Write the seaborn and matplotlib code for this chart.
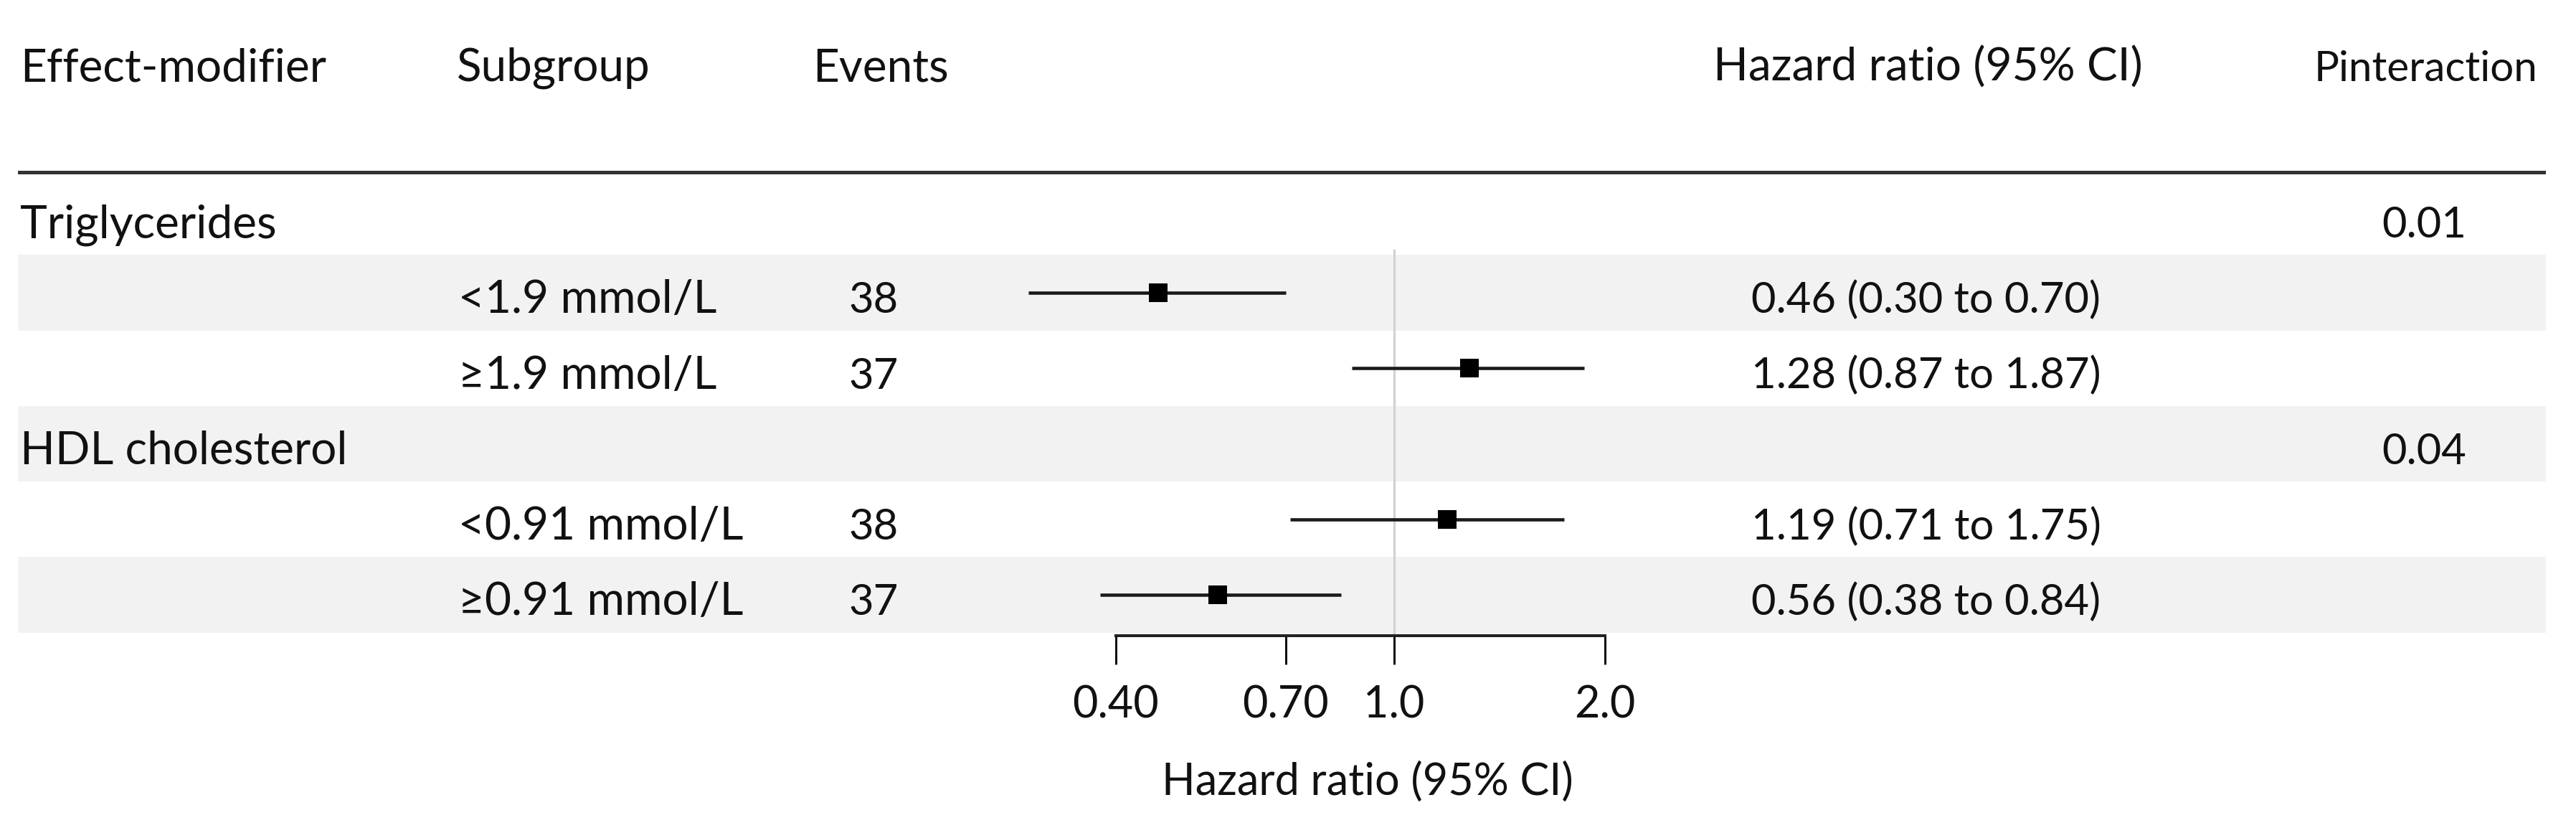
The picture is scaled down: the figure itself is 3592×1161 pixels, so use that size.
import numpy as np
import pandas as pd
import matplotlib
matplotlib.use("Agg")
import matplotlib.pyplot as plt
import matplotlib.transforms as mtransforms
from matplotlib.ticker import NullLocator
import seaborn as sns

# ---------------- data ----------------
modifiers = ["Triglycerides", "HDL cholesterol"]
p_interaction = ["0.01", "0.04"]
subgroups = ["<1.9 mmol/L", "≥1.9 mmol/L", "<0.91 mmol/L", "≥0.91 mmol/L"]
subgroup_modifier = [0, 0, 1, 1]
events = [38, 37, 38, 37]
hr = [0.46, 1.28, 1.19, 0.56]
ci_low = [0.30, 0.87, 0.71, 0.38]
ci_high = [0.70, 1.87, 1.75, 0.84]
x_ticks = [0.40, 0.70, 1.0, 2.0]
x_tick_labels = ["0.40", "0.70", "1.0", "2.0"]
headers = ["Effect-modifier", "Subgroup", "Events", "Hazard ratio (95% CI)", "Pinteraction"]
x_label = "Hazard ratio (95% CI)"

# ---------------- layout (pixels of a 3592x1161 canvas) ----------------
W_PX, H_PX, DPI = 3592, 1161, 200
AX_L_PX, AX_R_PX = 25, 3550
AX_BOTTOM_PX = 885.5
ROW0_PX, ROW_PX = 302.75, 105.25
X1_PX, PX_PER_LN = 1944, 423.5

sns.set_theme(style="white")
plt.rcParams["font.family"] = ["Lato", "DejaVu Sans"]
FS = 23.0
FS_NUM = 21.5
FS_P = 21.0

fig = plt.figure(figsize=(W_PX / DPI, H_PX / DPI), dpi=DPI)
ax = fig.add_axes([AX_L_PX / W_PX, 1 - AX_BOTTOM_PX / H_PX,
                   (AX_R_PX - AX_L_PX) / W_PX, AX_BOTTOM_PX / H_PX])
ax.set_facecolor("none")
ax.set_xscale("log")
xmin = np.exp((AX_L_PX - X1_PX) / PX_PER_LN)
xmax = np.exp((AX_R_PX - X1_PX) / PX_PER_LN)
ax.set_xlim(xmin, xmax)
y_top = -ROW0_PX / ROW_PX
y_bot = (AX_BOTTOM_PX - ROW0_PX) / ROW_PX
ax.set_ylim(y_bot, y_top)

# rows: modifier header rows and subgroup rows
row_of_modifier = []
row_of_subgroup = []
r = 0
for m in range(len(modifiers)):
    row_of_modifier.append(r)
    r += 1
    for i, sm in enumerate(subgroup_modifier):
        if sm == m:
            row_of_subgroup.append(r)
            r += 1
n_rows = r

# shading of alternating rows
for rr in range(1, n_rows, 2):
    ax.axhspan(rr - 0.5, rr + 0.5, color="#f2f2f2", zorder=0, lw=0)

# header rule
ax.axhline((240 - ROW0_PX) / ROW_PX, color="#333333", lw=1.8, zorder=1)

# reference line at 1
ax.vlines(1.0, (347 - ROW0_PX) / ROW_PX, y_bot, color="#d0d0d0", lw=1.1, zorder=1)

df = pd.DataFrame({"row": row_of_subgroup, "hr": hr, "lo": ci_low, "hi": ci_high})
ax.hlines(df["row"], df["lo"], df["hi"], color="#1a1a1a", lw=1.65, zorder=2)
sns.scatterplot(data=df, x="hr", y="row", marker="s", s=88, color="black",
                linewidth=0, ax=ax, zorder=3, legend=False)

# axis styling
for s in ["top", "left", "right"]:
    ax.spines[s].set_visible(False)
ax.spines["bottom"].set_bounds(x_ticks[0], x_ticks[-1])
ax.spines["bottom"].set_linewidth(1.45)
ax.spines["bottom"].set_color("#222222")
ax.set_xticks(x_ticks)
ax.set_xticklabels(x_tick_labels)
ax.xaxis.set_minor_locator(NullLocator())
ax.set_yticks([])
ax.tick_params(axis="x", length=14.4, width=1.1, direction="out", pad=10.5,
               labelsize=22.0, colors="#111111", bottom=True)
ax.set_ylabel("")
ax.set_xlabel(x_label, fontsize=22.0, color="#111111", va="top")
ax.xaxis.set_label_coords((1907 - AX_L_PX) / (AX_R_PX - AX_L_PX),
                          -(1062 - AX_BOTTOM_PX) / AX_BOTTOM_PX)

# text columns
trans = mtransforms.blended_transform_factory(fig.transFigure, ax.transData)
def px(x):
    return x / W_PX

TXT = "#111111"
base = 0.27
hdr_y = (113 - ROW0_PX) / ROW_PX
hdr_x = [28, 637, 1133, 2389]
for h, xx in zip(headers[:4], hdr_x):
    ax.text(px(xx), hdr_y, h, transform=trans, ha="left", va="baseline", fontsize=FS, color=TXT)
ax.text(px(3383), hdr_y, headers[4], transform=trans, ha="center", va="baseline", fontsize=FS_P, color=TXT)

for m, rr in enumerate(row_of_modifier):
    ax.text(px(28), rr + base, modifiers[m], transform=trans, ha="left", va="baseline", fontsize=FS, color=TXT)
    ax.text(px(3380), rr + base, p_interaction[m], transform=trans, ha="center", va="baseline", fontsize=FS_NUM, color=TXT)

for i, rr in enumerate(row_of_subgroup):
    ax.text(px(639), rr + base, subgroups[i], transform=trans, ha="left", va="baseline", fontsize=FS, color=TXT)
    ax.text(px(1183), rr + base, str(events[i]), transform=trans, ha="left", va="baseline", fontsize=FS_NUM, color=TXT)
    label = f"{hr[i]:.2f} ({ci_low[i]:.2f} to {ci_high[i]:.2f})"
    ax.text(px(2442), rr + base, label, transform=trans, ha="left", va="baseline", fontsize=FS_NUM, color=TXT)

fig.savefig("out.png", dpi=DPI, facecolor="white")
